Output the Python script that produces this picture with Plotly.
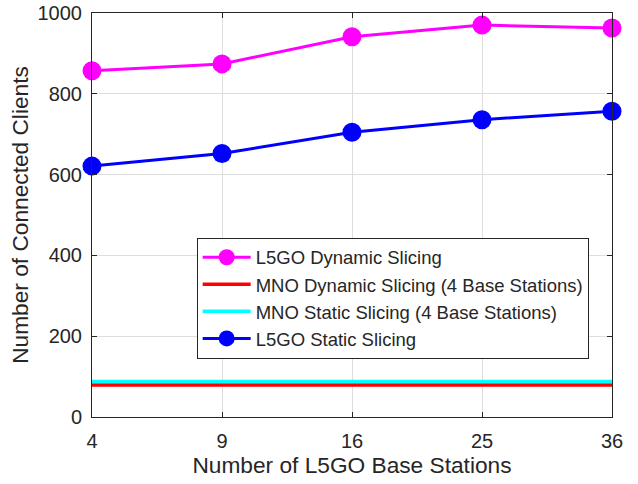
import plotly.graph_objects as go

base_stations = ["4", "9", "16", "25", "36"]
l5go_dynamic = [857, 874, 941, 970, 963]
l5go_static = [621, 652, 705, 736, 757]
mno_dynamic = [79, 79, 79, 79, 79]
mno_static = [88, 88, 88, 88, 88]
y_ticks = [0, 200, 400, 600, 800, 1000]

TEXT = "#262626"
FONT = "Liberation Sans, Arial, Helvetica, sans-serif"

fig = go.Figure()
fig.add_trace(go.Scatter(x=base_stations, y=l5go_dynamic, name="L5GO Dynamic Slicing",
                         mode="lines+markers", line=dict(color="#ff00ff", width=3),
                         marker=dict(size=19, color="#ff00ff"), cliponaxis=False))
fig.add_trace(go.Scatter(x=base_stations, y=mno_dynamic, name="MNO Dynamic Slicing (4 Base Stations)",
                         mode="lines", line=dict(color="#ff0000", width=3.5)))
fig.add_trace(go.Scatter(x=base_stations, y=mno_static, name="MNO Static Slicing (4 Base Stations)",
                         mode="lines", line=dict(color="#00ffff", width=3.5)))
fig.add_trace(go.Scatter(x=base_stations, y=l5go_static, name="L5GO Static Slicing",
                         mode="lines+markers", line=dict(color="#0000ff", width=3),
                         marker=dict(size=19, color="#0000ff"), cliponaxis=False))

axis_common = dict(showline=True, linecolor=TEXT, linewidth=1, mirror="ticks",
                   ticks="inside", ticklen=5, tickcolor=TEXT, showgrid=True,
                   gridcolor="#dedede", gridwidth=1, zeroline=False, automargin=False,
                   tickfont=dict(size=20, color=TEXT, family=FONT))

fig.update_layout(
    width=638, height=484,
    margin=dict(l=92, r=26, t=13.3, b=66.5),
    paper_bgcolor="white", plot_bgcolor="white",
    font=dict(family=FONT, color=TEXT),
    xaxis=dict(type="category", range=[0, 4],
               title=dict(text="Number of L5GO Base Stations", font=dict(size=22.7, color=TEXT), standoff=4),
               ticklabelstandoff=6,
               **axis_common),
    yaxis=dict(range=[0, 1000], tickvals=y_ticks,
               title=dict(text="Number of Connected Clients", font=dict(size=22.7, color=TEXT), standoff=2),
               ticklabelstandoff=5,
               **axis_common),
    legend=dict(x=0.2013, y=0.294, xanchor="left", yanchor="middle",
                bgcolor="white", bordercolor=TEXT, borderwidth=1,
                font=dict(size=18.5, color=TEXT, family=FONT),
                itemwidth=48, tracegroupgap=0),
    showlegend=True,
)

fig.write_html("out.html", config={"displayModeBar": False},
               post_script="document.body.style.margin='0';")
